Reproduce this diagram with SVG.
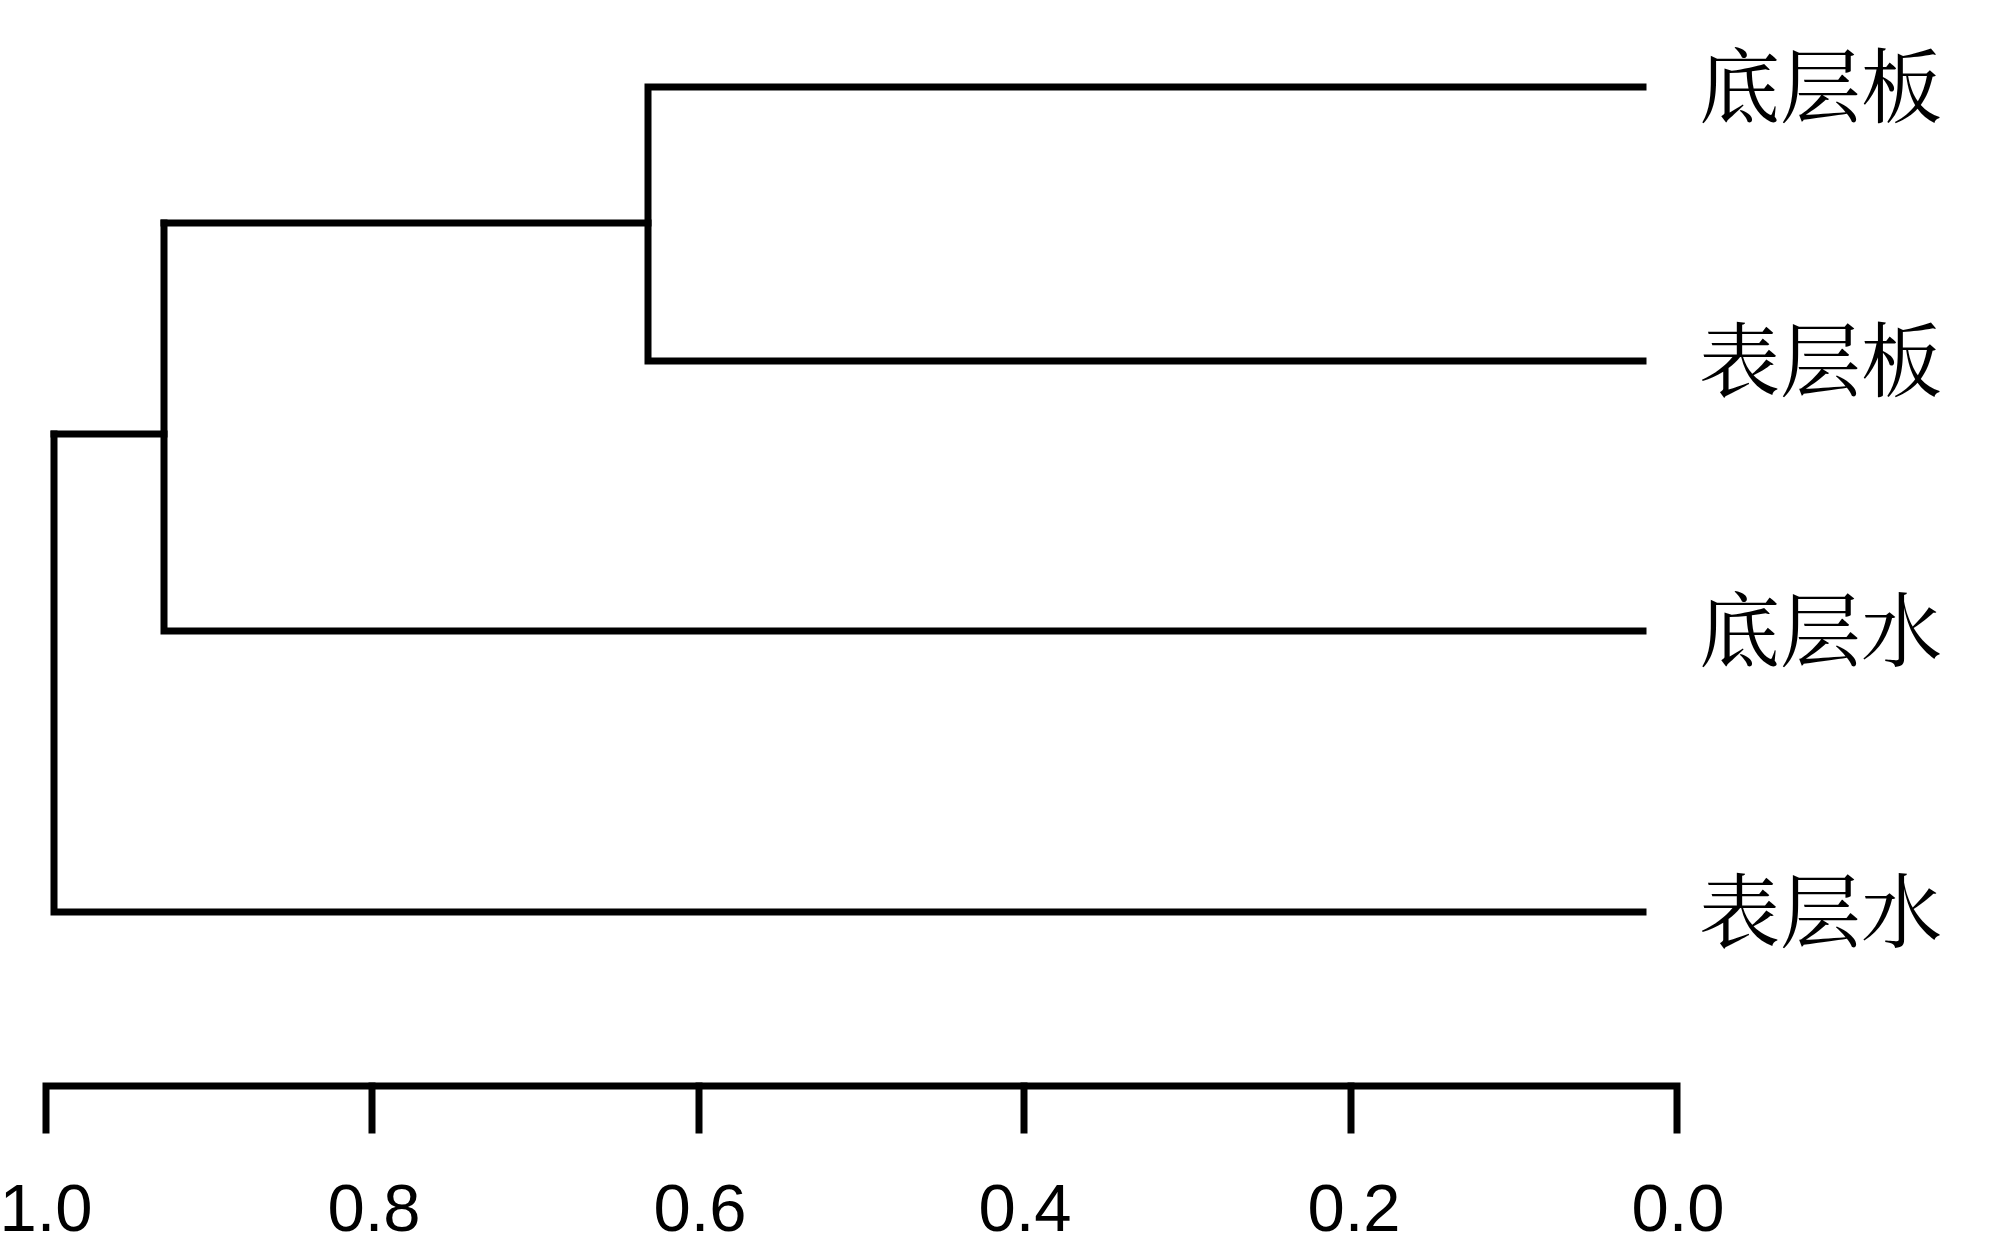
<svg xmlns="http://www.w3.org/2000/svg" width="2000" height="1253" viewBox="0 0 2000 1253">
<style>
.ln{stroke:#000;stroke-width:7;fill:none;stroke-linecap:square;stroke-linejoin:miter}
.lab{font-family:"Noto Serif CJK SC","Noto Sans CJK SC",serif;font-size:81px;fill:#000}
.tk{font-family:"Liberation Sans Narrow","Liberation Sans",sans-serif;font-size:67px;fill:#000;text-anchor:middle}
</style>
<rect width="2000" height="1253" fill="#fff"/>
<g id="connectors">
<polyline class="ln" points="1643,87 648,87 648,361 1643,361"/>
<polyline class="ln" points="648,223 164,223"/>
<polyline class="ln" points="164,223 164,631 1643,631"/>
<polyline class="ln" points="164,434 54,434"/>
<polyline class="ln" points="54,434 54,912 1643,912"/>
</g>
<g id="leaf-1"><text class="lab" x="1699" y="116">底层板</text></g>
<g id="leaf-2"><text class="lab" x="1699" y="390">表层板</text></g>
<g id="leaf-3"><text class="lab" x="1699" y="660">底层水</text></g>
<g id="leaf-4"><text class="lab" x="1699" y="941">表层水</text></g>
<g id="axis">
<polyline class="ln" points="46,1130 46,1086 1677,1086 1677,1130"/>
<line class="ln" x1="372" y1="1086" x2="372" y2="1130"/>
<line class="ln" x1="699" y1="1086" x2="699" y2="1130"/>
<line class="ln" x1="1024" y1="1086" x2="1024" y2="1130"/>
<line class="ln" x1="1351" y1="1086" x2="1351" y2="1130"/>
<text class="tk" x="46" y="1231">1.0</text>
<text class="tk" x="374" y="1231">0.8</text>
<text class="tk" x="700" y="1231">0.6</text>
<text class="tk" x="1025" y="1231">0.4</text>
<text class="tk" x="1354" y="1231">0.2</text>
<text class="tk" x="1678" y="1231">0.0</text>
</g>
</svg>
